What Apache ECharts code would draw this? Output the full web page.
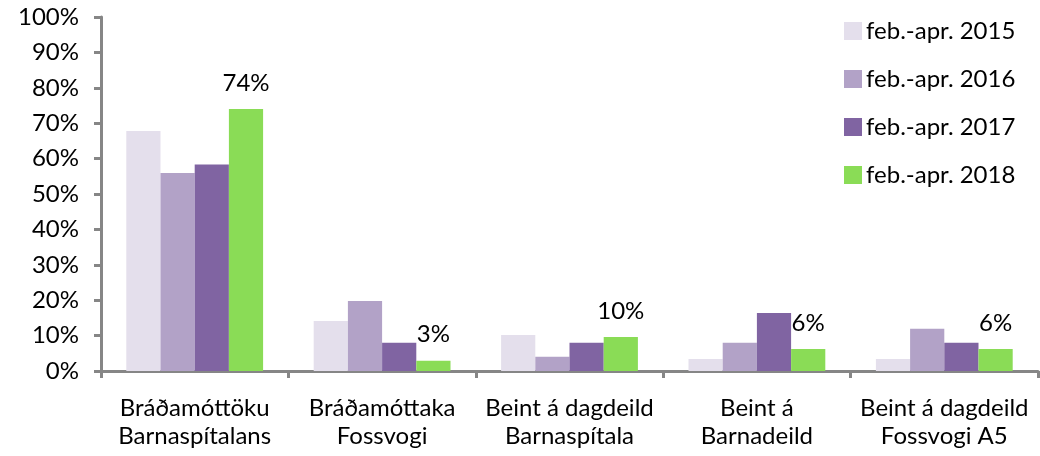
<!DOCTYPE html>
<html>
<head>
<meta charset="UTF-8">
<title>Chart</title>
<style>
    * { margin: 0; padding: 0; }
    html, body { width: 100%; height: 100%; background: #fff; }
    #chart { width: 1040px; height: 456px; }
</style>
</head>
<body>
<div id="chart"></div>
<script src="https://cdn.jsdelivr.net/npm/echarts@6/dist/echarts.min.js"></script>
<script>
    var categories = ['Bráðamóttöku\nBarnaspítalans', 'Bráðamóttaka\nFossvogi', 'Beint á dagdeild\nBarnaspítala', 'Beint á\nBarnadeild', 'Beint á dagdeild\nFossvogi A5'];
    var seriesNames = ['feb.-apr. 2015', 'feb.-apr. 2016', 'feb.-apr. 2017', 'feb.-apr. 2018'];
    var v2015 = [67.8, 14.1, 10.2, 3.4, 3.4];
    var v2016 = [55.9, 19.8, 4.0, 8.0, 11.9];
    var v2017 = [58.3, 8.0, 8.0, 16.4, 8.0];
    var v2018 = [74.0, 2.9, 9.6, 6.2, 6.2];
    var colors = ['#E4DFEC', '#B2A2C7', '#8064A2', '#8ADC56'];

    var font = 'Lato';
    var chart = echarts.init(document.getElementById('chart'));
    var allValues = [v2015, v2016, v2017, v2018];

    var series = seriesNames.map(function (name, i) {
        var s = {
            name: name,
            type: 'bar',
            barGap: '0%',
            barCategoryGap: '27%',
            itemStyle: { color: colors[i] },
            data: allValues[i]
        };
        if (i === 3) {
            s.label = {
                show: true,
                position: 'top',
                distance: 14,
                color: '#000',
                fontFamily: font,
                fontSize: 24,
                formatter: function (p) { return Math.round(p.value) + '%'; }
            };
        }
        return s;
    });

    chart.setOption({
        animation: false,
        color: colors,
        textStyle: { fontFamily: font },
        grid: { left: 101, right: 2, top: 17, bottom: 85 },
        legend: {
            orient: 'vertical',
            left: 839,
            top: 14,
            itemWidth: 18,
            itemHeight: 18,
            itemGap: 24,
            icon: 'rect',
            textStyle: { fontFamily: font, fontSize: 24, color: '#000', padding: [0, 0, 0, -1] },
            data: seriesNames
        },
        xAxis: {
            type: 'category',
            data: categories,
            axisLine: { lineStyle: { color: '#868686', width: 3 } },
            axisTick: { show: true, length: 7, lineStyle: { color: '#868686', width: 3 } },
            axisLabel: {
                color: '#000',
                fontFamily: font,
                fontSize: 24,
                lineHeight: 28,
                margin: 23,
                interval: 0
            }
        },
        yAxis: {
            type: 'value',
            min: 0,
            max: 100,
            interval: 10,
            splitLine: { show: false },
            axisLine: { show: true, lineStyle: { color: '#868686', width: 3 } },
            axisTick: { show: true, length: 7, lineStyle: { color: '#868686', width: 3 } },
            axisLabel: {
                color: '#000',
                fontFamily: font,
                fontSize: 24,
                margin: 22,
                formatter: '{value}%'
            }
        },
        series: series
    });
</script>
</body>
</html>
